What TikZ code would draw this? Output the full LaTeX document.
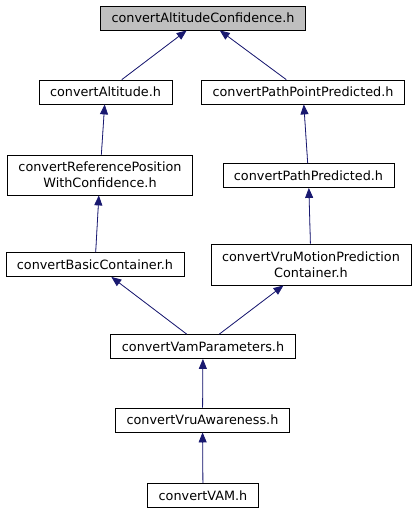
\documentclass[tikz,border=0pt]{standalone}
\usepackage{fontspec}
\setmainfont{DejaVu Sans}
\usepackage{tikz}
\usetikzlibrary{arrows.meta,positioning}

\definecolor{edgeblue}{RGB}{25,25,112}
\definecolor{topgray}{RGB}{191,191,191}

\tikzset{
    file/.style={draw=black, line width=0.8pt, fill=white, inner xsep=11pt, inner ysep=0pt,
        minimum height=24pt, align=center, font=\fontsize{12.8}{16}\selectfont},
    dep/.style={-{Triangle[length=10pt,width=8pt]}, draw=edgeblue, fill=edgeblue, line width=0.8pt}
}

\begin{document}
\begin{tikzpicture}[x=1pt,y=1pt]
    \useasboundingbox (0,0) rectangle (418,-515);

    % Header files
    \node[file, fill=topgray] (conf) at (203,-18) {convertAltitudeConfidence.h};
    \node[file] (alt) at (105.5,-92) {convertAltitude.h};
    \node[file] (ppp) at (303,-92) {convertPathPointPredicted.h};
    \node[file, minimum height=40pt] (refpos) at (100,-175) {convertReferencePosition\\WithConfidence.h};
    \node[file] (pathpred) at (308.5,-175.5) {convertPathPredicted.h};
    \node[file] (basic) at (95,-264.5) {convertBasicContainer.h};
    \node[file, minimum height=41pt] (vrumotion) at (311,-264.5) {convertVruMotionPrediction\\Container.h};
    \node[file] (vampar) at (203,-346.5) {convertVamParameters.h};
    \node[file] (vruaw) at (202.5,-420) {convertVruAwareness.h};
    \node[file] (vam) at (203,-495.5) {convertVAM.h};

    % Include edges
    \draw[dep] (alt) -- (conf);
    \draw[dep] (ppp) -- (conf);
    \draw[dep] (refpos) -- (alt);
    \draw[dep] (pathpred) -- (ppp);
    \draw[dep] (basic) -- (refpos);
    \draw[dep] (vrumotion) -- (pathpred);
    \draw[dep] (vampar) -- (basic);
    \draw[dep] (vampar) -- (vrumotion);
    \draw[dep] (vruaw) -- (vampar);
    \draw[dep] (vam) -- (vruaw);

\end{tikzpicture}
\end{document}
